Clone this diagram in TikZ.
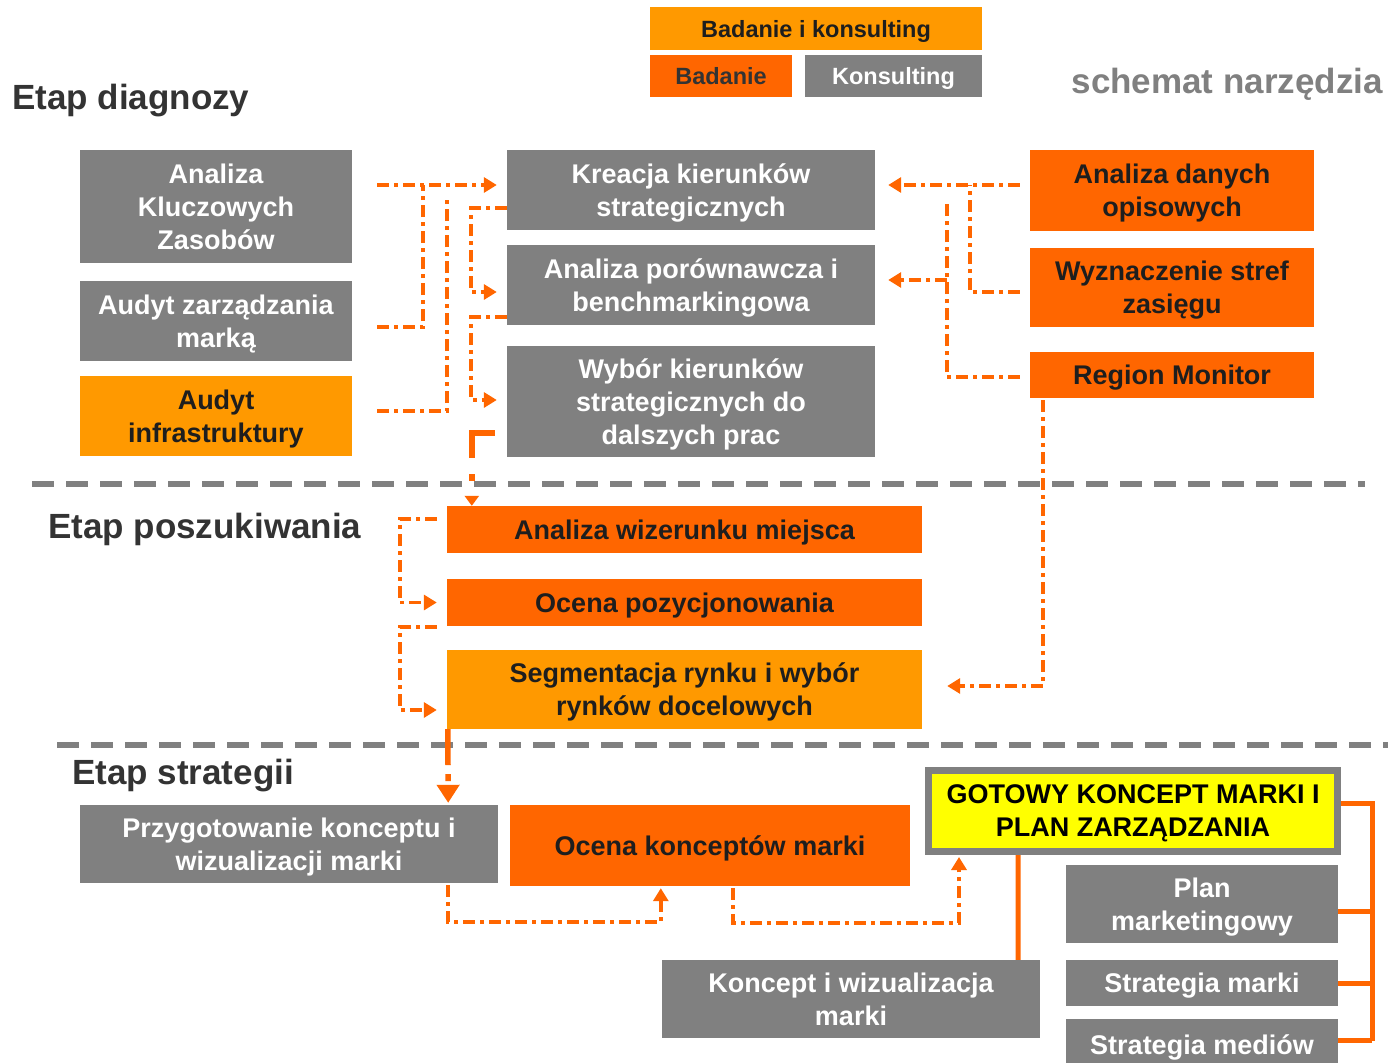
\documentclass[tikz,border=0pt]{standalone}
\usepackage{fontspec}
\setmainfont{Liberation Sans}
\usetikzlibrary{arrows.meta, calc, positioning}

\definecolor{greybox}{HTML}{808080}
\definecolor{orangebox}{HTML}{FF6600}
\definecolor{amberbox}{HTML}{FF9900}
\definecolor{yellowbox}{HTML}{FFFF00}
\definecolor{darktext}{HTML}{1E1E1E}
\definecolor{headtext}{HTML}{333333}

\newcommand{\tilefont}{\bfseries\fontsize{27}{33}\selectfont}
\newcommand{\legendfont}{\bfseries\fontsize{23.5}{28}\selectfont}
\newcommand{\headfont}{\bfseries\fontsize{35}{40}\selectfont}

\tikzset{
  tile/.style={rectangle, inner sep=0pt, align=center, text depth=0pt, font=\tilefont},
  greytile/.style={tile, fill=greybox, text=white},
  orangetile/.style={tile, fill=orangebox, text=darktext},
  ambertile/.style={tile, fill=amberbox, text=darktext},
  heading/.style={anchor=west, inner sep=0pt, text=headtext, font=\headfont},
  flow/.style={draw=orangebox, line width=3.5pt, dash pattern=on 12pt off 5pt on 4pt off 5pt},
  tip/.style={-{Triangle[length=13pt,width=15pt]}},
  thickflow/.style={draw=orangebox, line width=5.5pt},
  link/.style={draw=orangebox, line width=5pt},
  divider/.style={draw=greybox, line width=6pt, dash pattern=on 22pt off 12pt},
}

\begin{document}
\begin{tikzpicture}[x=1pt, y=-1pt]
  \useasboundingbox (0,0) rectangle (1388,1062);

  % Dividers
  \draw[divider] (32,484) -- (1365,484);
  \draw[divider] (57,745) -- (1388,745);

  % Legend
  \node[ambertile, font=\legendfont, minimum width=332pt, minimum height=43pt] (bik) at (816,28.5) {Badanie i konsulting};
  \node[orangetile, font=\legendfont, text=headtext, minimum width=142pt, minimum height=42pt] (bad) at (721,76) {Badanie};
  \node[greytile, font=\legendfont, minimum width=177pt, minimum height=42pt] (kon) at (893.5,76) {Konsulting};
  \node[anchor=east, inner sep=0pt, text=greybox, font=\headfont] (tytul) at (1383,84) {schemat narzędzia};

  % Headings
  \node[heading] (etap1) at (12,101) {Etap diagnozy};
  \node[heading] (etap2) at (48,529) {Etap poszukiwania};
  \node[heading] (etap3) at (72,776) {Etap strategii};

  % Etap diagnozy
  \node[greytile, minimum width=272pt, minimum height=113pt] (akz) at (216,206.5) {Analiza\\Kluczowych\\Zasobów};
  \node[greytile, minimum width=272pt, minimum height=80pt] (azm) at (216,321) {Audyt zarządzania\\marką};
  \node[ambertile, minimum width=272pt, minimum height=80pt] (ainf) at (216,416) {Audyt\\infrastruktury};
  \node[greytile, minimum width=368pt, minimum height=80pt] (kre) at (691,190) {Kreacja kierunków\\strategicznych};
  \node[greytile, minimum width=368pt, minimum height=80pt] (apb) at (691,285) {Analiza porównawcza i\\benchmarkingowa};
  \node[greytile, minimum width=368pt, minimum height=111pt] (wyb) at (691,401.5) {Wybór kierunków\\strategicznych do\\dalszych prac};
  \node[orangetile, minimum width=284pt, minimum height=81pt] (adp) at (1172,190.5) {Analiza danych\\opisowych};
  \node[orangetile, minimum width=284pt, minimum height=79pt] (wsz) at (1172,287.5) {Wyznaczenie stref\\zasięgu};
  \node[orangetile, minimum width=284pt, minimum height=46pt] (rm) at (1172,375) {Region Monitor};

  % Etap poszukiwania
  \node[orangetile, minimum width=475pt, minimum height=47pt] (awm) at (684.5,529.5) {Analiza wizerunku miejsca};
  \node[orangetile, minimum width=475pt, minimum height=47pt] (op) at (684.5,602.5) {Ocena pozycjonowania};
  \node[ambertile, minimum width=475pt, minimum height=79pt] (seg) at (684.5,689.5) {Segmentacja rynku i wybór\\rynków docelowych};

  % Etap strategii
  \node[greytile, minimum width=418pt, minimum height=78pt] (pkw) at (289,844) {Przygotowanie konceptu i\\wizualizacji marki};
  \node[orangetile, minimum width=400pt, minimum height=81pt] (ock) at (710,845.5) {Ocena konceptów marki};
  \node[tile, fill=yellowbox, draw=greybox, line width=7pt, text=black, minimum width=409pt, minimum height=81pt] (gkm) at (1133,811) {GOTOWY KONCEPT MARKI I\\PLAN ZARZĄDZANIA};
  \node[greytile, minimum width=272pt, minimum height=78pt] (pm) at (1202,904) {Plan\\marketingowy};
  \node[greytile, minimum width=272pt, minimum height=46pt] (sm) at (1202,983) {Strategia marki};
  \node[greytile, minimum width=272pt, minimum height=51pt] (sme) at (1202,1044.5) {Strategia mediów};
  \node[greytile, minimum width=378pt, minimum height=78pt] (kwm) at (851,999) {Koncept i wizualizacja\\marki};

  % Connectors, diagnoza
  \draw[flow,tip] ($(akz.east)+(25,-21.5)$) -- ($(kre.west)+(-10,-5)$);
  \draw[flow] ($(azm.east)+(25,6)$) -| ($(akz.east)+(71,-21.5)$);
  \draw[flow] ($(ainf.east)+(25,-5)$) -| ($(akz.east)+(95,-6.5)$);
  \draw[flow,tip] ($(kre.west)+(0,18)$) -- ++(-36,0) |- ($(apb.west)+(-10,7)$);
  \draw[flow,tip] ($(apb.west)+(0,32)$) -- ++(-36,0) |- ($(wyb.west)+(-10,-1.5)$);
  \draw[flow,tip] ($(adp.west)+(-10,-5.5)$) -- ($(kre.east)+(13,-5)$);
  \draw[flow] ($(wsz.west)+(-10,4.5)$) -| ($(adp.west)+(-60,-5.5)$);
  \draw[flow] ($(rm.west)+(-10,2)$) -| ($(adp.west)+(-83,9.5)$);
  \draw[flow,tip] ($(apb.east)+(72,-5)$) -- ($(apb.east)+(13,-5)$);
  \draw[thickflow, dash pattern=on 48pt off 16pt on 7pt off 100pt, -{Triangle[length=10pt,width=14pt]}]
    ($(wyb.west)+(-12,31.5)$) -| ($(awm.north west)+(25,0)$);

  % Connectors, poszukiwanie
  \draw[flow,tip] ($(rm.south west)+(13,2)$) |- ($(seg.east)+(25,-3.5)$);
  \draw[flow,tip] ($(awm.west)+(-10,-10.5)$) -- ++(-37,0) |- ($(op.west)+(-10,0)$);
  \draw[flow,tip] ($(op.west)+(-10,24.5)$) -- ++(-37,0) |- ($(seg.west)+(-10,20.5)$);
  \draw[thickflow, dash pattern=on 36pt off 9pt on 7pt off 100pt, -{Triangle[length=18pt,width=22pt]}]
    ($(seg.south west)+(1,0)$) -- ($(pkw.north east)+(-50,-2)$);

  % Connectors, strategia
  \draw[flow,tip] ($(pkw.south east)+(-50,2)$) -- ++(0,37) -| ($(ock.south west)+(151,2)$);
  \draw[flow,tip] ($(ock.south west)+(223,2)$) -- ++(0,35) -| ($(gkm.south west)+(34,2)$);
  \draw[link] ($(gkm.south west)+(93,0)$) -- ($(kwm.north east)+(-22,0)$);
  \draw[link] ($(gkm.east)+(0,-8)$) -| ($(sme.east)+(34,-4)$);
  \draw[link] ($(pm.east)+(0,7)$) -- ++(34,0);
  \draw[link] (sm.east) -- ++(34,0);
  \draw[link] ($(sme.east)+(0,-4)$) -- ++(34,0);
\end{tikzpicture}
\end{document}
